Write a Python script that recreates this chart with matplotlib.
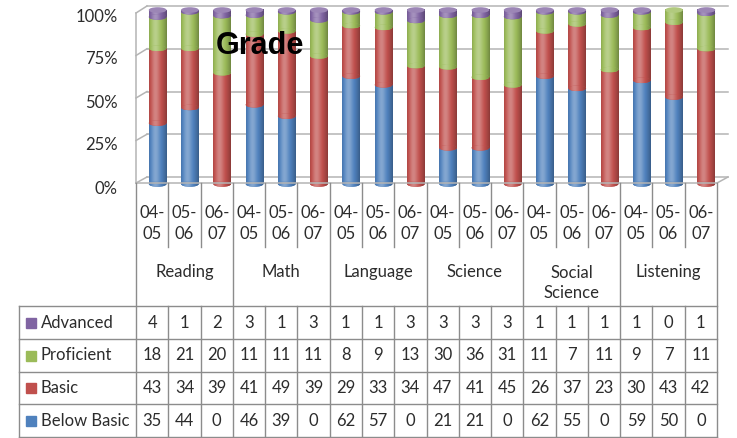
import numpy as np
import matplotlib
matplotlib.use("Agg")
import matplotlib.pyplot as plt
from matplotlib.patches import Rectangle, Ellipse
from matplotlib.lines import Line2D
import matplotlib.colors as mcolors

plt.rcParams['font.family'] = ['Lato', 'DejaVu Sans']

# ---------------- data ----------------
years = ["04-\n05", "05-\n06", "06-\n07"]
subjects = ["Reading", "Math", "Language", "Science", "Social\nScience", "Listening"]
series_names = ["Advanced", "Proficient", "Basic", "Below Basic"]
advanced = [4, 1, 2, 3, 1, 3, 1, 1, 3, 3, 3, 3, 1, 1, 1, 1, 0, 1]
proficient = [18, 21, 20, 11, 11, 11, 8, 9, 13, 30, 36, 31, 11, 7, 11, 9, 7, 11]
basic = [43, 34, 39, 41, 49, 39, 29, 33, 34, 47, 41, 45, 26, 37, 23, 30, 43, 42]
below_basic = [35, 44, 0, 46, 39, 0, 62, 57, 0, 21, 21, 0, 62, 55, 0, 59, 50, 0]
colors = {"Below Basic": "#4F81BD", "Basic": "#C0504D",
          "Proficient": "#9BBB59", "Advanced": "#8064A2"}
ytick_vals = [0, 25, 50, 75, 100]

W, H = 737, 438
fig = plt.figure(figsize=(W / 100, H / 100), dpi=100)
fig.patch.set_facecolor("white")

def fbox(x0, y0, x1, y1):
    return [x0 / W, 1 - y1 / H, (x1 - x0) / W, (y1 - y0) / H]

def fy(py):
    return 1 - py / H

ncol = len(advanced)
XL = (-0.5, ncol - 0.5)
GRID = "#B4B4B4"
LINE = "#8C8C8C"
TXT = "#2C2C2C"

# back wall
ax_wall = fig.add_axes(fbox(147, 6, 728, 177))
ax_wall.set_xlim(*XL); ax_wall.set_ylim(0, 100); ax_wall.axis("off")
# front plane
ax_front = fig.add_axes(fbox(136, 13, 717, 183))
ax_front.set_xlim(*XL); ax_front.set_ylim(0, 100); ax_front.axis("off")
# labels
ax_lab = fig.add_axes(fbox(136, 15, 717, 187))
ax_lab.set_xlim(*XL); ax_lab.set_ylim(0, 100)
ax_lab.set_xticks([])
ax_lab.set_yticks(ytick_vals)
ax_lab.set_yticklabels([f"{v}%" for v in ytick_vals], fontsize=12, color=TXT)
ax_lab.tick_params(axis="y", length=0, pad=13)
for s in ax_lab.spines.values():
    s.set_visible(False)
ax_lab.patch.set_visible(False)

# bar axes
y0px, y100px = 184.0, 10.0
sc = (y0px - y100px) / 100
lo, hi = -6, 104
ax = fig.add_axes(fbox(136, y0px - hi * sc, 717, y0px - lo * sc))
ax.set_xlim(*XL); ax.set_ylim(lo, hi); ax.axis("off")
ax.patch.set_visible(False)

inv = fig.transFigure.inverted()

def to_fig(axx, x, y):
    return inv.transform(axx.transData.transform((x, y)))

def fig_line(p1, p2, color=GRID, lw=1.1, z=1):
    fig.add_artist(Line2D([p1[0], p2[0]], [p1[1], p2[1]], color=color, lw=lw,
                          transform=fig.transFigure, zorder=z))

# gridlines on back wall + left wall diagonals
for v in ytick_vals:
    ax_wall.plot(list(XL), [v, v], color=GRID, lw=1.1, clip_on=False)
    fig_line(to_fig(ax_front, XL[0], v), to_fig(ax_wall, XL[0], v))
# front vertical and floor edges
fig_line(to_fig(ax_front, XL[0], 0), to_fig(ax_front, XL[0], 100))
fig_line(to_fig(ax_front, XL[0], 0), to_fig(ax_front, XL[1], 0))
fig_line(to_fig(ax_front, XL[1], 0), to_fig(ax_wall, XL[1], 0))

# ---------------- cylinders ----------------
tt = np.linspace(0, 1, 64)
kk = 0.30 * np.exp(-((tt - 0.36) / 0.24) ** 2) - 0.28 * (np.abs(tt - 0.42) / 0.58) ** 2.5

def shade_img(color):
    base = np.array(mcolors.to_rgb(color))
    img = np.empty((1, len(tt), 3))
    for j, k in enumerate(kk):
        if k >= 0:
            img[0, j] = base + k * (1 - base)
        else:
            img[0, j] = base * (1 + k)
    return np.clip(img, 0, 1)

def lighten(color, a):
    base = np.array(mcolors.to_rgb(color))
    return tuple(base + a * (1 - base))

bw = 0.55
xoff = 0.17
eh = 3.2
stack = [("Below Basic", below_basic), ("Basic", basic),
         ("Proficient", proficient), ("Advanced", advanced)]
z = 2
for i in range(ncol):
    total = sum(vals[i] for _, vals in stack)
    bottom = 0.0
    xc = i + xoff
    top_color = None
    for name, vals in stack:
        v = vals[i] / total * 100
        if v <= 0:
            continue
        col = colors[name]
        img = shade_img(col)
        rect = ax.bar(xc, v, width=bw, bottom=bottom, color=col, zorder=z,
                      linewidth=0, clip_on=False)[0]
        ax.imshow(img, extent=(rect.get_x(), rect.get_x() + rect.get_width(),
                               rect.get_y(), rect.get_y() + rect.get_height()),
                  aspect="auto", zorder=z + 0.1, interpolation="bilinear",
                  clip_on=False)
        ell = Ellipse((xc, bottom), bw, eh, facecolor=col, linewidth=0,
                      zorder=z + 0.2, clip_on=False)
        ax.add_patch(ell)
        im = ax.imshow(img, extent=(xc - bw / 2, xc + bw / 2, bottom - eh / 2, bottom + eh / 2),
                       aspect="auto", zorder=z + 0.3, interpolation="bilinear")
        im.set_clip_path(ell)
        bottom += v
        top_color = col
        z += 1
    cap = Ellipse((xc, bottom), bw, eh, facecolor=lighten(top_color, 0.22),
                  linewidth=0, zorder=z + 0.5, clip_on=False)
    ax.add_patch(cap)
ax.set_xlim(*XL); ax.set_ylim(lo, hi)

# ---------------- data table ----------------
def colx(k):
    return to_fig(ax, k - 0.5, 0)[0]

r_top, r_year, r_subj = 183, 247, 306
rows = [306, 339, 372, 404, 437]
left_x = 19 / W

# vertical lines
for k in range(ncol + 1):
    x = colx(k)
    if k % 3 == 0:
        fig_line((x, fy(r_top)), (x, fy(rows[-1])), color=LINE, lw=1.0, z=5)
    else:
        fig_line((x, fy(r_top)), (x, fy(r_year)), color=LINE, lw=1.0, z=5)
        fig_line((x, fy(r_subj)), (x, fy(rows[-1])), color=LINE, lw=1.0, z=5)
fig_line((left_x, fy(rows[0])), (left_x, fy(rows[-1])), color=LINE, lw=1.0, z=5)
for r in rows:
    fig_line((left_x, fy(r)), (colx(ncol), fy(r)), color=LINE, lw=1.0, z=5)

# year + subject labels
for k in range(ncol):
    xc = (colx(k) + colx(k + 1)) / 2
    fig.text(xc, fy(223.5), years[k % 3], ha="center", va="center", fontsize=12,
             color=TXT, linespacing=1.35)
for g, subj in enumerate(subjects):
    xc = (colx(3 * g) + colx(3 * g + 3)) / 2
    nl = subj.count("\n")
    fig.text(xc, fy(272 + nl * 11), subj, ha="center", va="center", fontsize=12,
             color=TXT, linespacing=1.3)

# rows
table_series = [("Advanced", advanced), ("Proficient", proficient),
                ("Basic", basic), ("Below Basic", below_basic)]
for ri, (name, vals) in enumerate(table_series):
    yc = (rows[ri] + rows[ri + 1]) / 2
    fig.add_artist(Rectangle((26 / W, fy(yc + 5)), 10 / W, 10 / H,
                             transform=fig.transFigure, color=colors[name], zorder=6))
    fig.text(41 / W, fy(yc), name, ha="left", va="center", fontsize=12, color=TXT)
    for k in range(ncol):
        xc = (colx(k) + colx(k + 1)) / 2
        fig.text(xc, fy(yc), str(vals[k]), ha="center", va="center", fontsize=12,
                 color=TXT)

# title-like label
fig.text(260 / W, fy(46), "Grade", ha="center", va="center", fontsize=22,
         fontweight="bold", family="Liberation Sans", color="black", zorder=20)

fig.savefig("out.png", dpi=100, facecolor="white")
